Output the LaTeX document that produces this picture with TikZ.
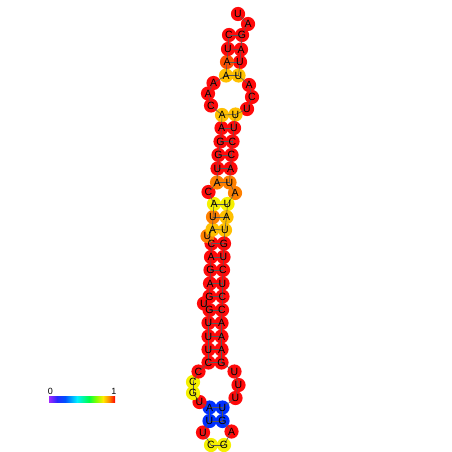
\documentclass[tikz,border=0pt]{standalone}
\usepackage{fontspec}
\setmainfont{Liberation Sans}
\definecolor{cR}{RGB}{255,10,10}
\definecolor{cOR}{RGB}{255,80,0}
\definecolor{cO}{RGB}{255,128,0}
\definecolor{cG}{RGB}{255,192,0}
\definecolor{cY}{RGB}{245,240,0}
\definecolor{cB}{RGB}{0,48,255}
\definecolor{s0}{RGB}{160,40,255}
\definecolor{s1}{RGB}{40,40,255}
\definecolor{s2}{RGB}{0,80,255}
\definecolor{s3}{RGB}{0,240,255}
\definecolor{s4}{RGB}{0,255,70}
\definecolor{s5}{RGB}{130,255,0}
\definecolor{s6}{RGB}{255,235,0}
\definecolor{s7}{RGB}{255,140,0}
\definecolor{s8}{RGB}{255,0,0}
\def\seq{1/238/14/U/cR, 2/248/24/A/cR, 3/242/35/G/cR, 4/241/49.5/A/cR, 5/240/62/U/cR, 6/238.5/75.5/U/cG,
 7/249/85/A/cR, 8/252/97/C/cR, 9/247/109/U/cR, 10/235.5/114.5/U/cG, 11/234/128/U/cR, 12/232.5/141.5/C/cR,
 13/231.5/155/C/cR, 14/230.5/168.5/A/cR, 15/229.5/182.5/U/cO, 16/235/193/A/cO, 17/227.5/204/U/cY,
 18/226.5/217/A/cG, 19/225/230/U/cG, 20/224/243.5/G/cR, 21/223.5/257/U/cR, 22/223/270/C/cR,
 23/222.5/283.5/U/cR, 24/222.5/296.5/C/cR, 25/222/310/C/cR, 26/221.5/323/A/cR, 27/221.5/336.5/A/cR,
 28/221.5/349.5/A/cR, 29/221.5/362.5/G/cR, 30/234.5/371.5/U/cR, 31/238.5/385/U/cR, 32/235.5/398/U/cR,
 33/222.5/407.5/U/cB, 34/222.5/421/G/cB, 35/231.5/431.5/A/cR, 36/224/445/G/cY, 37/211/445/C/cY,
 38/203/432.5/U/cR, 39/209.5/421/U/cB, 40/209.5/407.5/A/cB, 41/199.5/402/U/cR, 42/193/393/G/cY,
 43/193/382/C/cY, 44/198.5/371.5/C/cR, 45/208.5/362.5/C/cR, 46/208.5/349.5/U/cR, 47/208.5/336.5/U/cR,
 48/208.5/323/U/cR, 49/209.5/310/G/cR, 50/204/303.5/U/cR, 51/209.5/296.5/G/cR, 52/210/283.5/A/cR,
 53/210.5/270/G/cR, 54/211/257/A/cR, 55/211.5/243.5/C/cR, 56/207.5/236/U/cO, 57/212.5/229.5/A/cG,
 58/213/217/U/cO, 59/214/204/A/cY, 60/208.5/192/C/cR, 61/217/182.5/A/cO, 62/217.5/168.5/U/cR,
 63/218.5/155/G/cR, 64/220.5/141.5/G/cR, 65/221.5/128/A/cR, 66/222/115/A/cG, 67/211/105.5/C/cR,
 68/208/93.5/A/cR, 69/213.5/83/A/cR, 70/226/75.5/A/cG, 71/227/62/A/cOR, 72/228/49/U/cR, 73/229/35/C/cR}
\begin{document}
\begin{tikzpicture}[x=1pt,y=-1pt,
  base/.style={circle,minimum size=14.2pt,inner sep=0pt},
  lett/.style={font=\fontsize{10.5}{10.5}\selectfont,inner sep=0pt,text=black},
  bb/.style={draw=black!65,line width=0.55pt},
  barlab/.style={font=\fontsize{9}{9}\selectfont,inner sep=0pt}]
\fill[white] (0,0) rectangle (452,452);
\useasboundingbox (0,0) rectangle (452,452);
% circles
\foreach \i/\x/\y/\l/\c in \seq {\node[base,fill=\c] (n\i) at (\x,\y) {};}
% backbone
\foreach \i [evaluate=\i as \j using int(\i+1)] in {1,...,72} {\draw[bb] (n\i.center) -- (n\j.center);}
% base pairs
\foreach \a/\b in {3/73,4/72,5/71,6/70,10/66,11/65,12/64,13/63,14/62,15/61,17/59,18/58,19/57,
  20/55,21/54,22/53,23/52,24/51,25/49,26/48,27/47,28/46,29/45,33/40,34/39}
  {\draw[bb] (n\a.center) -- (n\b.center);}
% letters
\foreach \i/\x/\y/\l/\c in \seq {\node[lett] (t\i) at (n\i) {\l};}
% colour bar
\shade[left color=s0,right color=s1] (49,396) rectangle (57,402.5);
\shade[left color=s1,right color=s2] (57,396) rectangle (65,402.5);
\shade[left color=s2,right color=s3] (65,396) rectangle (77,402.5);
\shade[left color=s3,right color=s4] (77,396) rectangle (89,402.5);
\shade[left color=s4,right color=s5] (89,396) rectangle (96,402.5);
\shade[left color=s5,right color=s6] (96,396) rectangle (103,402.5);
\shade[left color=s6,right color=s7] (103,396) rectangle (109,402.5);
\shade[left color=s7,right color=s8] (109,396) rectangle (115,402.5);
\node[barlab] (l0) at (50.5,391.5) {0};
\node[barlab] (l1) at (114,391.5) {1};
\end{tikzpicture}
\end{document}
